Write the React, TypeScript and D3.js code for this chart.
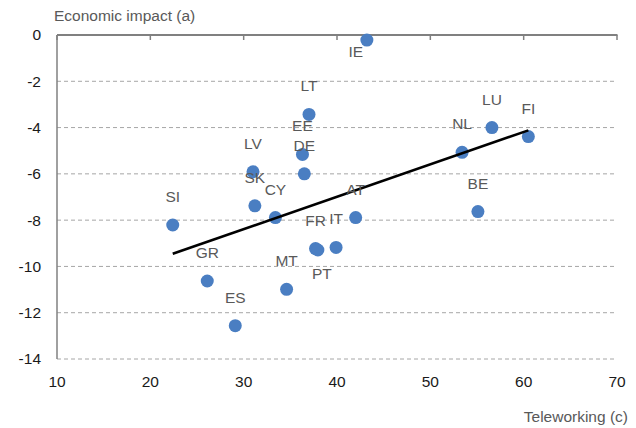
import React from "react";
import * as d3 from "d3";

const countries = ["IE","LT","EE","DE","LV","SK","CY","SI","GR","ES","MT","FR","PT","IT","AT","BE","NL","LU","FI"];
const teleworking = [43.2,37.0,36.3,36.5,31.0,31.2,33.4,22.4,26.1,29.1,34.6,37.7,37.95,39.9,42.0,55.1,53.4,56.6,60.5];
const impact = [-0.22,-3.43,-5.16,-6.0,-5.91,-7.38,-7.89,-8.21,-10.63,-12.56,-10.99,-9.23,-9.29,-9.18,-7.89,-7.63,-5.07,-4.0,-4.39];
// label placement: "above" or "below", with small horizontal nudges
const labelSide = ["belowLeft","above","above","above","above","above","above","above","above","above","above","above","below","above","above","above","above","above","above"];

const xTicks = [10,20,30,40,50,60,70];
const yTicks = [0,-2,-4,-6,-8,-10,-12,-14];

const W = 636, H = 428;
const M = { left: 57, right: 617, top: 35, bottom: 359 };
const FONT = "'Liberation Sans', Arial, Helvetica, sans-serif";

export default function App() {
  const x = d3.scaleLinear().domain([10, 70]).range([M.left, M.right]);
  const y = d3.scaleLinear().domain([-14, 0]).range([M.bottom, M.top]);

  const mx = d3.mean(teleworking)!;
  const my = d3.mean(impact)!;
  let sxy = 0, sxx = 0;
  teleworking.forEach((v, i) => { sxy += (v - mx) * (impact[i] - my); sxx += (v - mx) ** 2; });
  const slope = sxy / sxx;
  const icpt = my - slope * mx;
  const [x0, x1] = d3.extent(teleworking) as [number, number];
  const line = d3.line<[number, number]>().x(d => x(d[0])).y(d => y(d[1]));
  const trend = line([[x0, icpt + slope * x0], [x1, icpt + slope * x1]]);

  return (
    <svg width={W} height={H} style={{ position: "absolute", left: 0, top: 0, background: "#fff" }} fontFamily={FONT}>
      {yTicks.filter(t => t !== 0).map(t => (
        <line key={t} x1={M.left} x2={M.right} y1={y(t)} y2={y(t)} stroke="#a6a6a6" strokeWidth={1} strokeDasharray="4,3" />
      ))}
      <line x1={M.left} x2={M.left} y1={M.top} y2={M.bottom} stroke="#808080" strokeWidth={1.5} />
      <line x1={M.left} x2={M.right + 0.5} y1={y(0)} y2={y(0)} stroke="#808080" strokeWidth={2} />
      {xTicks.map(t => (
        <line key={t} x1={x(t)} x2={x(t)} y1={y(0)} y2={y(0) + 5} stroke="#808080" strokeWidth={1.5} />
      ))}
      {xTicks.map(t => (
        <text key={t} x={x(t)} y={387} textAnchor="middle" fontSize={15.5} fill="#1a1a1a">{t}</text>
      ))}
      {yTicks.map(t => (
        <text key={t} x={41} y={y(t)} dy="0.35em" textAnchor="end" fontSize={15.5} fill="#1a1a1a">{t}</text>
      ))}
      <text x={54} y={21} fontSize={15.5} fill="#595959">Economic impact (a)</text>
      <text x={628} y={422} textAnchor="end" fontSize={15.5} fill="#595959">Teleworking (c)</text>
      {teleworking.map((v, i) => (
        <circle key={countries[i]} cx={x(v)} cy={y(impact[i])} r={6.5} fill="#4a7ec2" />
      ))}
      <path d={trend ?? ""} fill="none" stroke="#000" strokeWidth={2.6} />
      {teleworking.map((v, i) => {
        const side = labelSide[i];
        let dx = 0, dy = -23;
        if (side === "below") { dx = 4; dy = 29; }
        if (side === "belowLeft") { dx = -11; dy = 17; }
        return (
          <text key={countries[i]} x={x(v) + dx} y={y(impact[i]) + dy} textAnchor="middle" fontSize={15.5} fill="#595959">{countries[i]}</text>
        );
      })}
    </svg>
  );
}
